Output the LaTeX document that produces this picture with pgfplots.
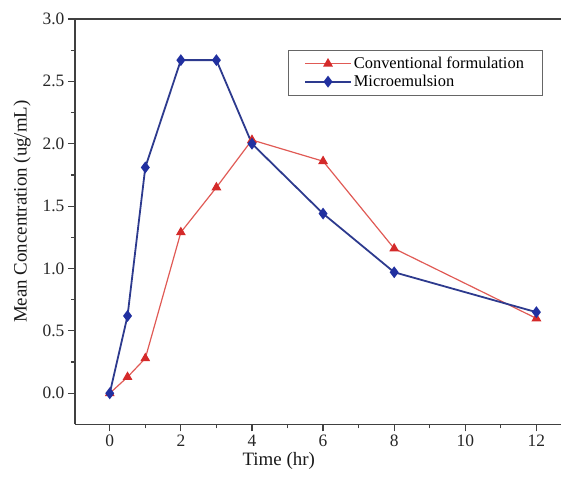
\documentclass[border=0pt]{standalone}
\usepackage{fontspec}
\setmainfont{Liberation Serif}
\usepackage{pgfplots}
\pgfplotsset{compat=1.18}
\definecolor{conv}{HTML}{D42A2A}
\definecolor{convline}{HTML}{E05A55}
\definecolor{micro}{HTML}{2130A0}
\definecolor{microline}{HTML}{2D3A8E}
\definecolor{axgray}{HTML}{404040}
\begin{document}
\begin{tikzpicture}
\begin{axis}[
    scale only axis, width=487bp, height=406bp,
    xmin=-0.98, xmax=12.7, ymin=-0.25, ymax=3.0,
    axis x line*=bottom, axis y line*=left,
    axis line style={line width=1.4bp, axgray, -},
    xtick={0,2,...,12}, ytick={0,0.5,...,3.0},
    minor x tick num=1, minor y tick num=1,
    tick align=outside,
    tick style={line width=1.2bp, axgray},
    major tick length=7bp, minor tick length=4bp,
    /pgf/number format/assume math mode=true,
    yticklabel style={/pgf/number format/.cd, fixed, fixed zerofill, precision=1},
    tick label style={font=\fontsize{17.5}{19}\selectfont, black!85},
    xlabel={Time (hr)}, ylabel={Mean Concentration (ug/mL)},
    label style={font=\fontsize{19}{21}\selectfont, black!90},
    xlabel style={at={(ticklabel cs:0.419)}, anchor=near ticklabel, yshift=1bp},
    ylabel style={at={(ticklabel cs:0.525)}, anchor=near ticklabel, yshift=5bp},
    legend style={at={(0.961,0.924)}, anchor=north east, draw=black!60,
        line width=0.8bp, font=\fontsize{16.5}{18}\selectfont,
        inner xsep=16bp, inner ysep=5bp, row sep=1bp},
    legend cell align=left,
    legend image code/.code={\draw[mark repeat=2,mark phase=2]
        plot coordinates {(0bp,0bp)(23bp,0bp)(46bp,0bp)};},
]
\addplot[convline, line width=1.2bp, mark=triangle*, mark size=4.5bp,
    mark options={fill=conv, draw=conv}] coordinates {
    (0,0) (0.5,0.13) (1,0.28) (2,1.29) (3,1.65) (4,2.03) (6,1.86) (8,1.16) (12,0.60)};
\addplot[microline, line width=1.8bp, mark=diamond*, mark size=4.5bp,
    mark options={fill=micro, draw=micro}] coordinates {
    (0,0) (0.5,0.62) (1,1.81) (2,2.67) (3,2.67) (4,2.0) (6,1.44) (8,0.97) (12,0.65)};
\legend{Conventional formulation, Microemulsion}
\draw[line width=1.4bp, axgray] (rel axis cs:0,1) -- (rel axis cs:1,1);
\coordinate (bl) at (rel axis cs:0,0);
\coordinate (tr) at (rel axis cs:1,1);
\end{axis}
\path ([xshift=-75bp,yshift=-55bp]bl) rectangle ([yshift=19bp]tr);
\end{tikzpicture}
\end{document}
